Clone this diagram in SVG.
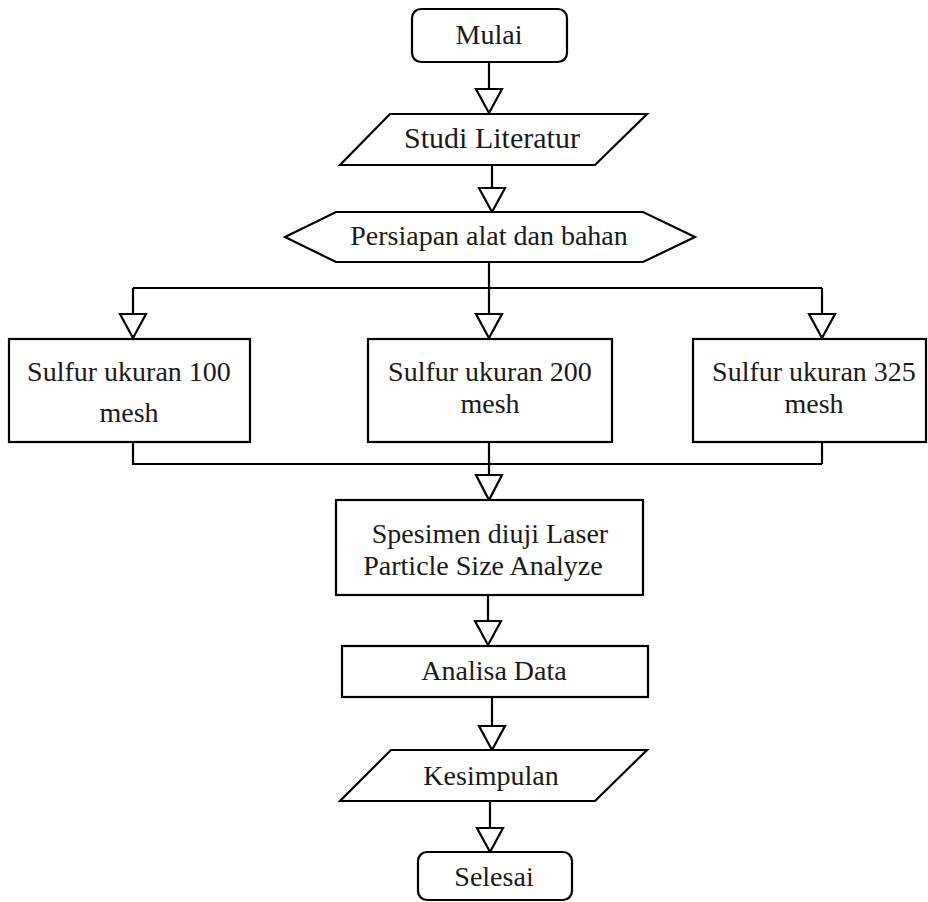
<svg xmlns="http://www.w3.org/2000/svg" width="928" height="902" viewBox="0 0 928 902">
<style>
.s{fill:#fff;stroke:#000;stroke-width:2.2}
.t{font-family:"Liberation Serif","Times New Roman",serif;font-size:28px;fill:#1a1a1a;text-anchor:middle}
.c{fill:none;stroke:#000;stroke-width:2.2}
.a{fill:#fff;stroke:#000;stroke-width:2.2;stroke-linejoin:miter}
</style>
<rect width="928" height="902" fill="#fff"/>
<g id="connectors">
<path class="c" d="M489 62V90"/>
<polygon class="a" points="476,89 502,89 489,113"/>
<path class="c" d="M492 165V188"/>
<polygon class="a" points="479,188 505,188 492,212"/>
<path class="c" d="M489 262V288M133 288H822M133 288V315M489 288V315M822 288V315"/>
<polygon class="a" points="120,314 146,314 133,338"/>
<polygon class="a" points="476,314 502,314 489,338"/>
<polygon class="a" points="809,314 835,314 822,338"/>
<path class="c" d="M133 442V464H822M822 442V464M489 442V476"/>
<polygon class="a" points="476,475 502,475 489,500"/>
<path class="c" d="M488 595V621"/>
<polygon class="a" points="475,621 501,621 488,645"/>
<path class="c" d="M492 697V726"/>
<polygon class="a" points="479,726 505,726 492,750"/>
<path class="c" d="M490 801V828"/>
<polygon class="a" points="477,828 503,828 490,852"/>
</g>
<g id="mulai">
<rect class="s" x="412" y="9" width="155" height="53" rx="9"/>
<text class="t" x="489" y="44">Mulai</text>
</g>
<g id="studi">
<polygon class="s" points="390,114 647,114 595,165 340,165"/>
<text class="t" x="492" y="148" style="font-size:30px">Studi Literatur</text>
</g>
<g id="persiapan">
<polygon class="s" points="285,237 336,212 643,212 695,237 643,262 336,262"/>
<text class="t" x="489" y="245">Persiapan alat dan bahan</text>
</g>
<g id="sulfur100">
<rect class="s" x="9" y="339" width="241" height="103"/>
<text class="t" x="129" y="381">Sulfur ukuran 100</text>
<text class="t" x="129" y="422">mesh</text>
</g>
<g id="sulfur200">
<rect class="s" x="368" y="339" width="244" height="103"/>
<text class="t" x="490" y="381">Sulfur ukuran 200</text>
<text class="t" x="490" y="413">mesh</text>
</g>
<g id="sulfur325">
<rect class="s" x="693" y="339" width="233" height="103"/>
<text class="t" x="814" y="381">Sulfur ukuran 325</text>
<text class="t" x="814" y="413">mesh</text>
</g>
<g id="spesimen">
<rect class="s" x="336" y="500" width="307" height="95"/>
<text class="t" x="490" y="543">Spesimen diuji Laser</text>
<text class="t" x="483" y="575">Particle Size Analyze</text>
</g>
<g id="analisa">
<rect class="s" x="342" y="646" width="306" height="51"/>
<text class="t" x="494" y="680">Analisa Data</text>
</g>
<g id="kesimpulan">
<polygon class="s" points="391,750 647,750 595,801 340,801"/>
<text class="t" x="491" y="785">Kesimpulan</text>
</g>
<g id="selesai">
<rect class="s" x="418" y="852" width="154" height="48" rx="9"/>
<text class="t" x="494" y="886">Selesai</text>
</g>
</svg>
